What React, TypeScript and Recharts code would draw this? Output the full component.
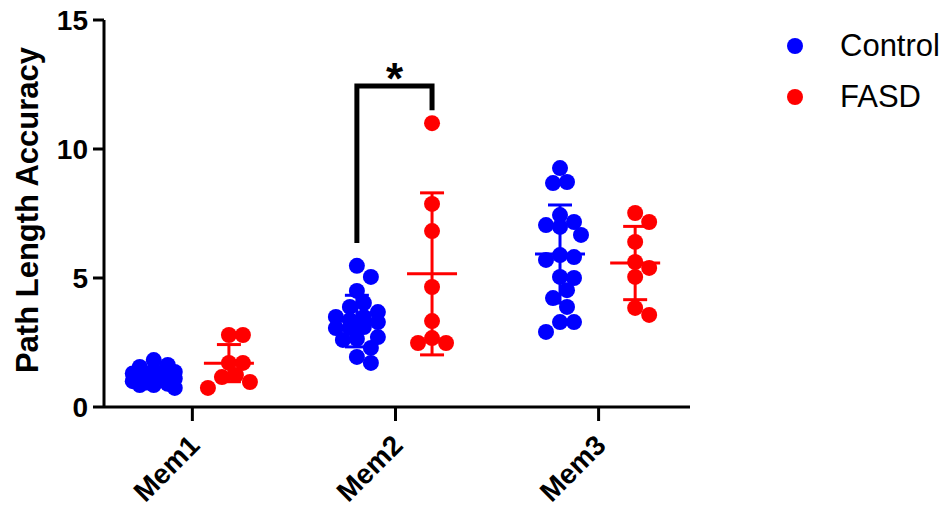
import React from 'react';
import { ComposedChart, Scatter, Line, XAxis, YAxis, ErrorBar, ReferenceDot } from 'recharts';

const categories = ['Mem1', 'Mem2', 'Mem3'];
const yTicks = [0, 5, 10, 15];

// individual values
const controlMem1 = [1.82, 1.63, 1.55, 1.43, 1.36, 1.3, 1.25, 1.2, 1.15, 1.1, 1.05, 1.0, 0.95, 0.9, 0.85, 0.85, 0.74, 1.2, 1.3];
const controlMem2 = [5.47, 5.04, 4.5, 4.03, 3.88, 3.68, 3.49, 3.29, 3.37, 3.06, 3.06, 2.71, 2.64, 2.29, 1.94, 1.71, 2.6, 3.1, 3.49];
const controlMem3 = [9.26, 8.72, 8.68, 7.44, 7.05, 7.17, 6.67, 5.89, 5.7, 5.81, 5.0, 5.04, 4.53, 4.22, 3.88, 3.29, 3.29, 2.91, 6.98];
const fasdMem1 = [2.79, 2.79, 1.71, 1.71, 1.24, 1.16, 0.97, 0.74];
const fasdMem2 = [11.0, 7.87, 6.82, 4.65, 3.33, 2.67, 2.48, 2.48];
const fasdMem3 = [7.52, 7.17, 6.4, 5.39, 5.62, 5.04, 3.84, 3.57];

// mean and SD per category
const controlMean = [1.18, 3.33, 5.93];
const controlSd = [0.3, 1.0, 1.9];
const fasdMean = [1.7, 5.16, 5.58];
const fasdSd = [0.72, 3.14, 1.42];

// significance bracket over Mem2
const bracketLeftY = 6.36;
const bracketTopY = 12.44;
const bracketRightY = 11.5;
const starY = 12.75;

const BLUE = '#0000ff';
const RED = '#ff0000';
const FONT = '"Liberation Sans", Arial, sans-serif';

const W = 946;
const H = 508;
const MARGIN = { top: 20, right: 256, left: 0, bottom: 0 };
const Y_AXIS_W = 104;
const X_AXIS_H = 101;
const X_DOMAIN: [number, number] = [0.565, 3.45];
const Y_MAX = 15;
const CONTROL_OFFSET = -0.19;
const FASD_OFFSET = 0.18;
const DOT_R = 8;

const pxPerX = (W - MARGIN.left - MARGIN.right - Y_AXIS_W) / (X_DOMAIN[1] - X_DOMAIN[0]);
const pxPerY = (H - MARGIN.top - MARGIN.bottom - X_AXIS_H) / Y_MAX;

// simple beeswarm spread, like the prism scatter dot plot
function swarm(values: number[], center: number) {
  const placed: { dx: number; py: number }[] = [];
  const out: { x: number; y: number }[] = new Array(values.length);
  const order = values.map((_, i) => i).sort((a, b) => values[b] - values[a]);
  const step = 7;
  const maxSteps = 3;
  const minDist = 14;
  for (const i of order) {
    const py = values[i] * pxPerY;
    let best = 0;
    let bestScore = -1;
    for (let k = 0; k <= maxSteps * 2; k++) {
      const dx = k === 0 ? 0 : (k % 2 ? 1 : -1) * Math.ceil(k / 2) * step;
      const d = placed.reduce((m, p) => Math.min(m, Math.hypot(p.dx - dx, p.py - py)), Infinity);
      if (d >= minDist) {
        best = dx;
        break;
      }
      if (d > bestScore) {
        bestScore = d;
        best = dx;
      }
    }
    placed.push({ dx: best, py });
    out[i] = { x: center + best / pxPerX, y: values[i] };
  }
  return out;
}

const controlGroups = [controlMem1, controlMem2, controlMem3];
const fasdGroups = [fasdMem1, fasdMem2, fasdMem3];

const controlPoints = controlGroups.flatMap((vals, i) => swarm(vals, i + 1 + CONTROL_OFFSET));
const fasdPoints = fasdGroups.flatMap((vals, i) => swarm(vals, i + 1 + FASD_OFFSET));

const controlSummary = controlMean.map((m, i) => ({ x: i + 1 + CONTROL_OFFSET, y: m, err: controlSd[i] }));
const fasdSummary = fasdMean.map((m, i) => ({ x: i + 1 + FASD_OFFSET, y: m, err: fasdSd[i] }));

const bracket = [
  { x: 2 + CONTROL_OFFSET, y: bracketLeftY },
  { x: 2 + CONTROL_OFFSET, y: bracketTopY },
  { x: 2 + FASD_OFFSET, y: bracketTopY },
  { x: 2 + FASD_OFFSET, y: bracketRightY },
];

const legendItems = [
  { name: 'Control', color: BLUE },
  { name: 'FASD', color: RED },
];

const dot = (color: string) => (props: any) => (
  <circle cx={props.cx} cy={props.cy} r={DOT_R} fill={color} />
);

const meanLine = (color: string) => (props: any) => (
  <line x1={props.cx - 25} x2={props.cx + 25} y1={props.cy} y2={props.cy} stroke={color} strokeWidth={3} />
);

const MemTick = ({ x, y, payload }: any) => (
  <g transform={`translate(${x + 9},${y + 24})`}>
    <text textAnchor="end" transform="rotate(-45)" fill="#000" fontFamily={FONT} fontSize={28} fontWeight="bold">
      {categories[payload.value - 1]}
    </text>
  </g>
);

const YTitle = () => (
  <text
    transform="translate(38,210) rotate(-90)"
    textAnchor="middle"
    fill="#000"
    fontFamily={FONT}
    fontSize={31}
    fontWeight="bold"
  >
    Path Length Accuracy
  </text>
);

export default function App() {
  return (
    <div style={{ position: 'absolute', left: 0, top: 0, width: W, height: H, background: '#fff' }}>
      <ComposedChart width={W} height={H} margin={MARGIN}>
        <XAxis
          type="number"
          dataKey="x"
          domain={X_DOMAIN}
          allowDataOverflow
          ticks={[1, 2, 3]}
          height={X_AXIS_H}
          tick={<MemTick />}
          tickSize={14}
          axisLine={{ stroke: '#000', strokeWidth: 3 }}
          tickLine={{ stroke: '#000', strokeWidth: 3 }}
        />
        <YAxis
          type="number"
          dataKey="y"
          domain={[0, Y_MAX]}
          ticks={yTicks}
          width={Y_AXIS_W}
          tickSize={11}
          tickMargin={5}
          axisLine={{ stroke: '#000', strokeWidth: 3 }}
          tickLine={{ stroke: '#000', strokeWidth: 3 }}
          tick={{ fill: '#000', fontSize: 28, fontWeight: 'bold', fontFamily: FONT }}
          label={{ content: () => <YTitle /> }}
        />
        <Scatter data={controlPoints} shape={dot(BLUE)} isAnimationActive={false} />
        <Scatter data={fasdPoints} shape={dot(RED)} isAnimationActive={false} />
        <Scatter data={controlSummary} shape={meanLine(BLUE)} isAnimationActive={false}>
          <ErrorBar dataKey="err" direction="y" width={12} stroke={BLUE} strokeWidth={3} isAnimationActive={false} />
        </Scatter>
        <Scatter data={fasdSummary} shape={meanLine(RED)} isAnimationActive={false}>
          <ErrorBar dataKey="err" direction="y" width={12} stroke={RED} strokeWidth={3} isAnimationActive={false} />
        </Scatter>
        <Line
          data={bracket}
          dataKey="y"
          type="linear"
          stroke="#000"
          strokeWidth={5}
          strokeLinejoin="miter"
          dot={false}
          activeDot={false}
          isAnimationActive={false}
        />
        <ReferenceDot
          x={2 + (CONTROL_OFFSET + FASD_OFFSET) / 2}
          y={starY}
          r={0}
          fill="none"
          stroke="none"
          label={{ value: '*', position: 'center', fill: '#000', fontSize: 44, fontWeight: 'bold', fontFamily: FONT }}
        />
      </ComposedChart>
      <div style={{ position: 'absolute', left: 787, top: 20, fontFamily: FONT, fontSize: 31, color: '#000' }}>
        {legendItems.map((item) => (
          <div key={item.name} style={{ display: 'flex', alignItems: 'center', height: 51 }}>
            <span style={{ width: 16, height: 16, borderRadius: 8, background: item.color, display: 'inline-block' }} />
            <span style={{ marginLeft: 37 }}>{item.name}</span>
          </div>
        ))}
      </div>
    </div>
  );
}
